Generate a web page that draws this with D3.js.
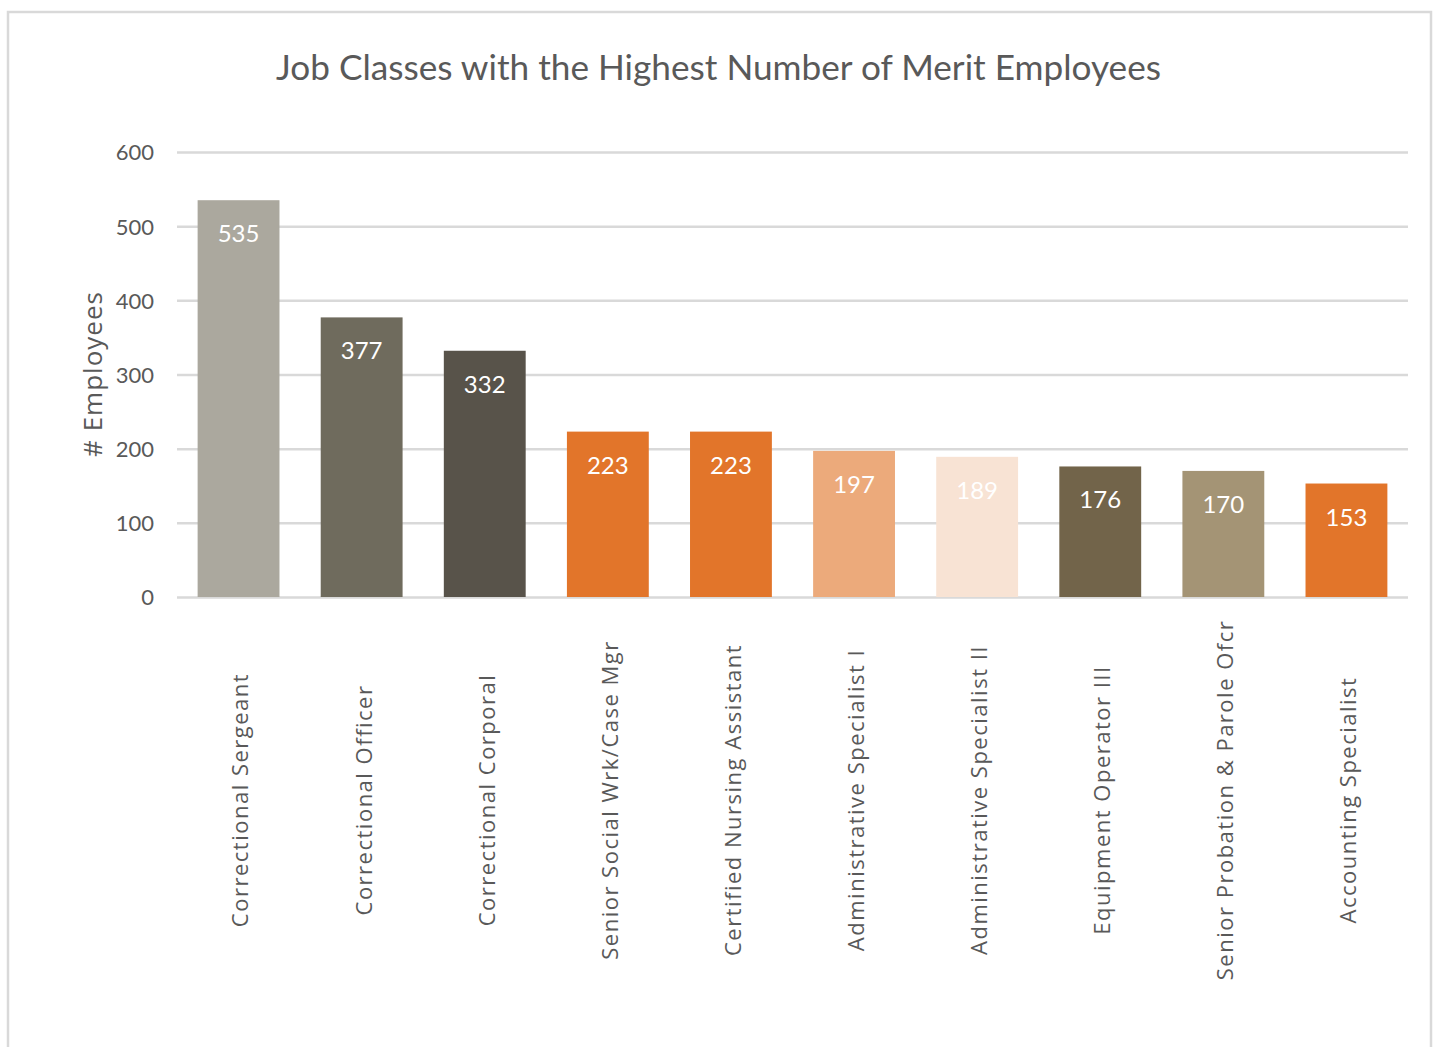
<!DOCTYPE html>
<html>
<head>
<meta charset="utf-8">
<script src="https://cdn.jsdelivr.net/npm/d3@7"></script>
<style>
  html, body { margin: 0; padding: 0; background: #ffffff; }
  svg { display: block; }
</style>
</head>
<body>
<svg id="chart" width="1439" height="1047"></svg>
<script>
// Job classes, head counts and bar fills
const categories = [
  "Correctional Sergeant",
  "Correctional Officer",
  "Correctional Corporal",
  "Senior Social Wrk/Case Mgr",
  "Certified Nursing Assistant",
  "Administrative Specialist I",
  "Administrative Specialist II",
  "Equipment Operator III",
  "Senior Probation & Parole Ofcr",
  "Accounting Specialist"
];
const employees = [535, 377, 332, 223, 223, 197, 189, 176, 170, 153];
const barColors = [
  "#aba89e", "#6f6b5d", "#58534a", "#e2752a", "#e2752a",
  "#ecaa7b", "#f8e3d4", "#72644a", "#a49475", "#e2752a"
];
const yTicks = [0, 100, 200, 300, 400, 500, 600];

const title = "Job Classes with the Highest Number of Merit Employees";
const yTitle = "# Employees";

const svg = d3.select("#chart");

// Chart frame
svg.append("path")
  .attr("d", "M8,1047 L8,12 L1431,12 L1431,1047")
  .attr("fill", "none")
  .attr("stroke", "#d9d9d9")
  .attr("stroke-width", 2.5);

const plot = { left: 177, right: 1408, top: 152, bottom: 597 };

const x = d3.scaleBand()
  .domain(categories)
  .range([plot.left, plot.right])
  .paddingInner(0.335)
  .paddingOuter(0.1675);

const y = d3.scaleLinear()
  .domain([0, 600])
  .range([plot.bottom, plot.top]);

// Horizontal gridlines and value ticks
const yAxis = d3.axisLeft(y)
  .tickValues(yTicks)
  .tickSize(-(plot.right - plot.left))
  .tickPadding(23);

const gy = svg.append("g")
  .attr("transform", `translate(${plot.left},0)`)
  .call(yAxis);
gy.select(".domain").remove();
gy.selectAll(".tick line")
  .attr("stroke", "#d9d9d9")
  .attr("stroke-width", 2.5);
gy.selectAll(".tick text")
  .attr("fill", "#595959")
  .attr("font-family", "Lato, sans-serif")
  .attr("font-size", 22)
  .attr("dy", "0.36em");

// Bars
svg.append("g")
  .selectAll("rect")
  .data(categories)
  .join("rect")
  .attr("x", d => x(d))
  .attr("width", x.bandwidth())
  .attr("y", (d, i) => y(employees[i]))
  .attr("height", (d, i) => y(0) - y(employees[i]))
  .attr("fill", (d, i) => barColors[i]);

// Value labels inside the bar tops
svg.append("g")
  .selectAll("text")
  .data(categories)
  .join("text")
  .attr("x", d => x(d) + x.bandwidth() / 2)
  .attr("y", (d, i) => y(employees[i]) + 42)
  .attr("text-anchor", "middle")
  .attr("fill", "#ffffff")
  .attr("font-family", "Lato, sans-serif")
  .attr("font-size", 24)
  .text((d, i) => employees[i]);

// Rotated category labels
const gx = svg.append("g")
  .attr("transform", `translate(0,${plot.bottom})`)
  .call(d3.axisBottom(x).tickSize(0).tickPadding(0));
gx.select(".domain").remove();
gx.selectAll(".tick text")
  .attr("transform", "translate(2,203) rotate(-90)")
  .attr("text-anchor", "middle")
  .attr("dy", "0.36em")
  .attr("y", 0)
  .attr("fill", "#595959")
  .attr("font-family", "'Open Sans', sans-serif")
  .attr("font-size", 22)
  .attr("letter-spacing", 1.5);

// Axis title
svg.append("text")
  .attr("transform", "translate(102,374) rotate(-90)")
  .attr("text-anchor", "middle")
  .attr("fill", "#595959")
  .attr("font-family", "'Open Sans', sans-serif")
  .attr("font-size", 26)
  .attr("letter-spacing", 1)
  .text(yTitle);

// Chart title
svg.append("text")
  .attr("x", 718.5)
  .attr("y", 80)
  .attr("text-anchor", "middle")
  .attr("fill", "#595959")
  .attr("font-family", "Lato, sans-serif")
  .attr("font-size", 35.2)
  .text(title);
</script>
</body>
</html>
